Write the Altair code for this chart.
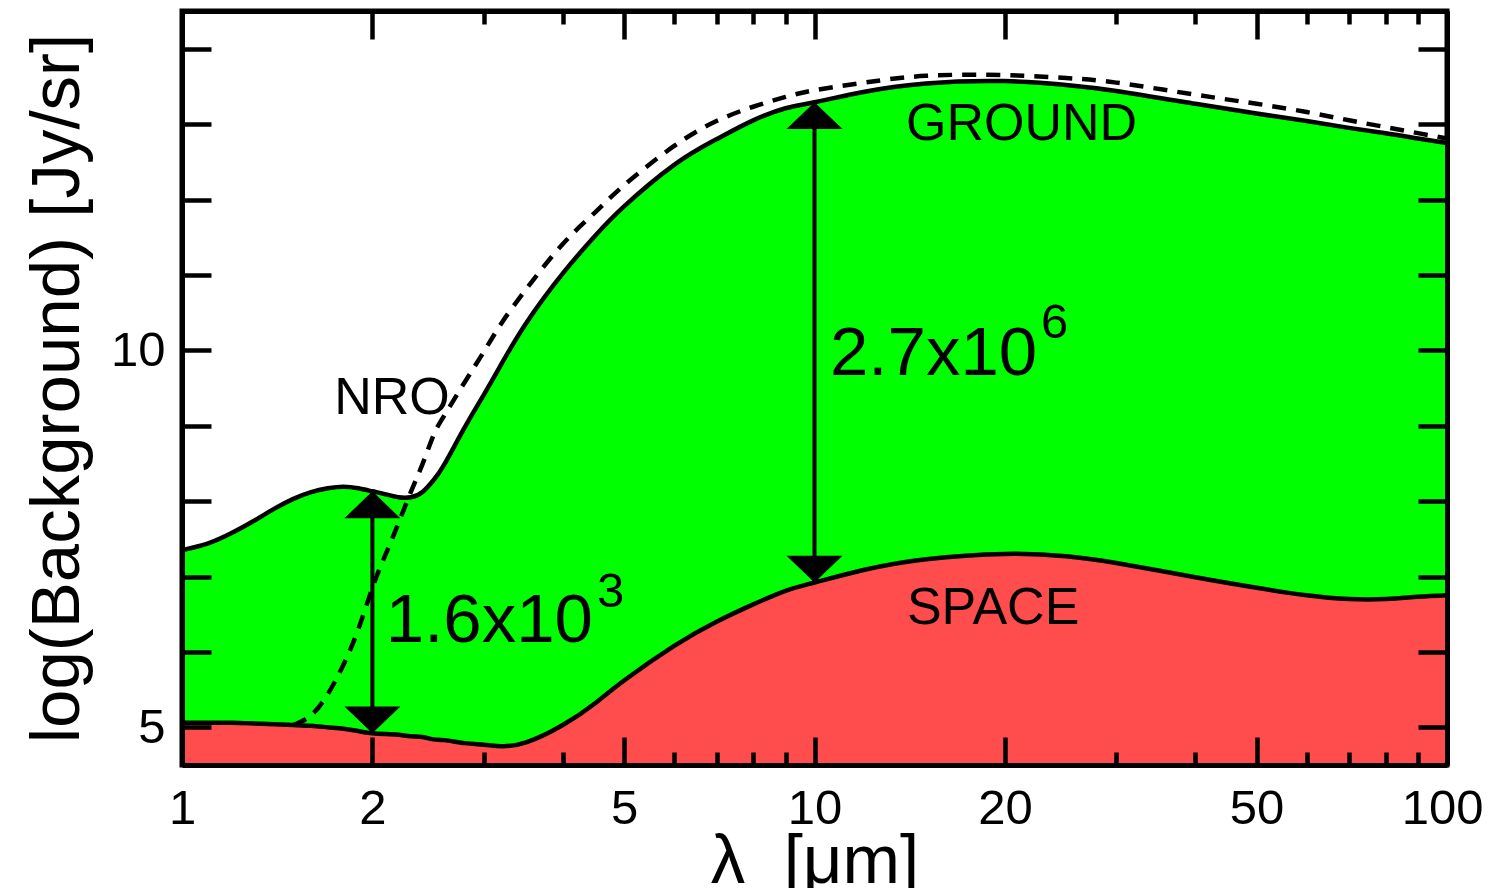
import altair as alt
import pandas as pd

FONT = "Liberation Sans"

# wavelength grid (micron) and log background levels [Jy/sr]
lam = [1.0, 1.1, 1.2, 1.3, 1.4, 1.5, 1.6, 1.7, 1.8, 1.9, 2.0, 2.1, 2.2, 2.3, 2.4,
       2.5, 2.6, 2.8, 3.0, 3.2, 3.5, 4.0, 4.5, 5, 6, 7, 8, 9, 10, 12, 15, 20, 25,
       30, 40, 50, 60, 70, 80, 90, 100]
ground = [7.35, 7.44, 7.58, 7.74, 7.90, 8.03, 8.12, 8.17, 8.19, 8.17, 8.13, 8.09,
          8.05, 8.05, 8.12, 8.28, 8.49, 8.98, 9.41, 9.82, 10.36, 11.02, 11.52,
          11.91, 12.46, 12.80, 13.05, 13.21, 13.29, 13.43, 13.54, 13.57, 13.52,
          13.44, 13.27, 13.14, 13.04, 12.95, 12.88, 12.81, 12.75]
space = [5.06, 5.06, 5.06, 5.05, 5.04, 5.03, 5.02, 5.00, 4.98, 4.95, 4.92, 4.91,
         4.90, 4.88, 4.87, 4.84, 4.83, 4.79, 4.77, 4.75, 4.80, 5.03, 5.32, 5.62,
         6.08, 6.40, 6.63, 6.81, 6.92, 7.09, 7.23, 7.30, 7.27, 7.18, 6.99, 6.85,
         6.75, 6.70, 6.70, 6.73, 6.75]

# NRO (dashed)
nro_lam = [1.5, 1.6, 1.7, 1.8, 1.9, 2.0, 2.1, 2.2, 2.3, 2.4, 2.5, 2.6, 2.8, 3.0,
           3.2, 3.5, 4.0, 4.5, 5, 6, 7, 8, 9, 10, 12, 15, 20, 25, 30, 40, 50, 60,
           70, 80, 90, 100]
nro = [5.03, 5.16, 5.44, 5.83, 6.30, 6.85, 7.30, 7.71, 8.12, 8.49, 8.88, 9.14,
       9.58, 9.98, 10.36, 10.81, 11.41, 11.83, 12.19, 12.71, 13.04, 13.23, 13.36,
       13.45, 13.55, 13.64, 13.65, 13.61, 13.55, 13.39, 13.27, 13.16, 13.05,
       12.96, 12.88, 12.81]

# ratio arrows
arrow_lam = [2, 10]
arrow_lo = [4.92, 6.92]
arrow_hi = [8.13, 13.29]

# annotations
label_text = ["GROUND", "SPACE", "NRO"]
label_lam = [13.95, 14.0, 1.74]
label_val = [12.79, 6.37, 9.155]

ratio_text = ["1.6x10", "2.7x10"]
ratio_lam = [2.10, 10.58]
ratio_val = [6.13, 9.67]

exp_text = ["3", "6"]
exp_lam = [4.53, 22.8]
exp_val = [6.6, 10.16]

x_labels = [1, 2, 5, 10, 20, 50]
x_last = [100]
x_all = [1, 2, 3, 4, 5, 6, 7, 8, 9, 10, 20, 30, 40, 50, 60, 70, 80, 90, 100]
y_labels = [5, 10]
y_ticks = [5, 6, 7, 8, 9, 10, 11, 12, 13, 14]

W, H = 1265, 754
CURVE = "natural"

df = pd.DataFrame({"lam": lam, "ground": ground, "space": space})
df_nro = pd.DataFrame({"lam": nro_lam, "nro": nro})
df_arrow = pd.DataFrame({"lam": arrow_lam, "lo": arrow_lo, "hi": arrow_hi})
df_lab = pd.DataFrame({"lam": label_lam, "val": label_val, "text": label_text})
df_ratio = pd.DataFrame({"lam": ratio_lam, "val": ratio_val, "text": ratio_text})
df_exp = pd.DataFrame({"lam": exp_lam, "val": exp_val, "text": exp_text})

xs = alt.Scale(type="log", domain=[1, 100], nice=False)
ys = alt.Scale(domain=[4.5, 14.5], nice=False, zero=False)

major_test = "indexof([1,2,5,10,20,50,100], datum.value) >= 0"
x_tick_size = {"condition": {"test": major_test, "value": 28}, "value": 13}


def label_axis_x(values, title, shift):
    kw = dict(orient="bottom", values=values, ticks=False, tickSize=0,
              domain=False, grid=False, labelFontSize=49, labelPadding=19,
              labelFont=FONT, labelColor="black", labelOverlap=False,
              labelFlush=False, labelExpr="format(datum.value, 'd')",
              labelOffset=shift)
    if title:
        kw.update(title=title, titleFont=FONT, titleFontSize=69,
                  titleFontWeight="normal", titleColor="black", titleY=117,
                  titleBaseline="alphabetic")
    else:
        kw.update(title=None)
    return alt.Axis(**kw)


ax_x_lab = label_axis_x(x_labels, "λ\u00a0 [μm]", 0)
ax_x_last = label_axis_x(x_last, "", -5)

ax_y_lab = alt.Axis(orient="left", values=y_labels, ticks=False, tickSize=0,
                    domain=False, grid=False, labelFontSize=49, labelPadding=17,
                    labelFont=FONT, labelColor="black",
                    title="log(Background) [Jy/sr]", titleFont=FONT,
                    titleFontSize=69, titleFontWeight="normal", titleColor="black",
                    titleX=-104, titleAngle=270, titleBaseline="alphabetic")


def tick_axis(orient, offset, values, size):
    return alt.Axis(orient=orient, offset=offset, values=values, labels=False,
                    ticks=True, tickSize=size, tickWidth=4.5, tickColor="black",
                    domain=True, domainWidth=5, domainColor="black", grid=False,
                    title=None, zindex=1)


ax_x_bt = tick_axis("top", -H, x_all, x_tick_size)
ax_x_tt = tick_axis("bottom", -H, x_all, x_tick_size)
ax_y_lt = tick_axis("right", -W, y_ticks, 29)
ax_y_rt = tick_axis("left", -W, y_ticks, 29)

green = alt.Chart(df).mark_area(color="#00ff00", interpolate=CURVE).encode(
    x=alt.X("lam:Q", scale=xs, axis=ax_x_lab),
    y=alt.Y("ground:Q", scale=ys, axis=ax_y_lab),
    y2=alt.Y2("space:Q"),
)
red = alt.Chart(df).mark_area(color="#ff4c4c", interpolate=CURVE).encode(
    x=alt.X("lam:Q", scale=xs, axis=ax_x_bt),
    y=alt.Y("space:Q", scale=ys, axis=ax_y_lt),
    y2=alt.Y2Datum(4.5),
)
nro_line = alt.Chart(df_nro).mark_line(
    color="black", strokeWidth=4.5, strokeDash=[14, 10], interpolate=CURVE
).encode(
    x=alt.X("lam:Q", scale=xs, axis=ax_x_tt),
    y=alt.Y("nro:Q", scale=ys, axis=ax_y_rt),
)
g_line = alt.Chart(df).mark_line(color="black", strokeWidth=4.5, interpolate=CURVE).encode(
    x=alt.X("lam:Q", scale=xs, axis=ax_x_last),
    y=alt.Y("ground:Q", scale=ys, axis=None),
)
s_line = alt.Chart(df).mark_line(color="black", strokeWidth=4.5, interpolate=CURVE).encode(
    x=alt.X("lam:Q", scale=xs, axis=None),
    y=alt.Y("space:Q", scale=ys, axis=None),
)
shaft = alt.Chart(df_arrow).mark_rule(color="black", strokeWidth=4).encode(
    x=alt.X("lam:Q", scale=xs, axis=None),
    y=alt.Y("lo:Q", scale=ys, axis=None),
    y2=alt.Y2("hi:Q"),
)
head_up = alt.Chart(df_arrow).mark_point(
    shape="M0,0L1,0.96L-1,0.96Z", filled=True, size=3136, color="black",
    opacity=1, strokeWidth=0
).encode(
    x=alt.X("lam:Q", scale=xs, axis=None),
    y=alt.Y("hi:Q", scale=ys, axis=None),
)
head_dn = alt.Chart(df_arrow).mark_point(
    shape="M0,0L1,-0.96L-1,-0.96Z", filled=True, size=3136, color="black",
    opacity=1, strokeWidth=0
).encode(
    x=alt.X("lam:Q", scale=xs, axis=None),
    y=alt.Y("lo:Q", scale=ys, axis=None),
)


def text_layer(d, size):
    return alt.Chart(d).mark_text(
        align="left", baseline="alphabetic", font=FONT, fontSize=size, color="black"
    ).encode(
        x=alt.X("lam:Q", scale=xs, axis=None),
        y=alt.Y("val:Q", scale=ys, axis=None),
        text="text:N",
    )


t_lab = text_layer(df_lab, 52)
t_ratio = text_layer(df_ratio, 69)
t_exp = text_layer(df_exp, 49)

chart = alt.layer(
    green, red, nro_line, g_line, s_line, shaft, head_up, head_dn, t_lab, t_ratio, t_exp
).resolve_axis(x="independent", y="independent").properties(
    width=W, height=H,
    padding={"left": 174, "top": 3, "right": 37, "bottom": 123},
    autosize=alt.AutoSizeParams(type="none"),
).configure_view(stroke="black", strokeWidth=5)

chart.save("out.html", embed_options={"renderer": "svg", "actions": False})
